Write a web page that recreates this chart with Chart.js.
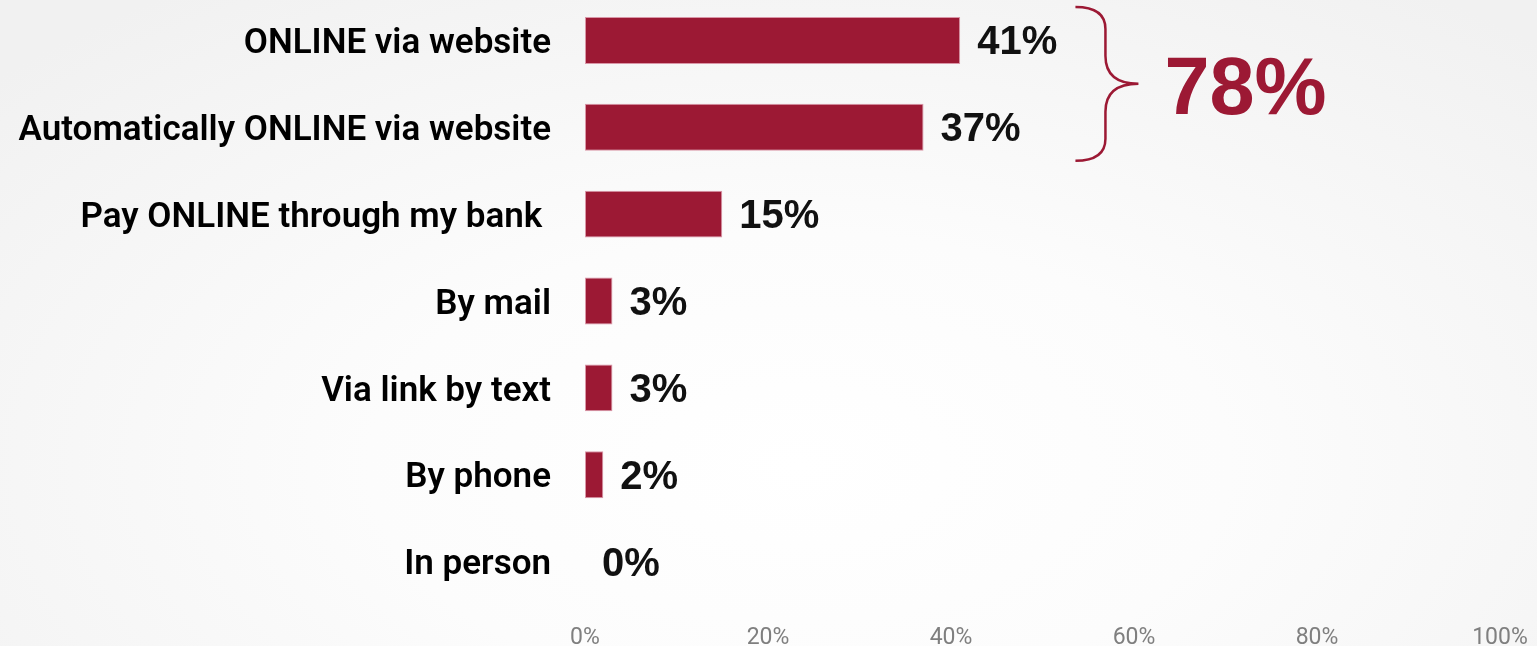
<!DOCTYPE html>
<html>
<head>
<meta charset="utf-8">
<script src="https://cdn.jsdelivr.net/npm/chart.js@4"></script>
<style>
  html, body {
    margin: 0;
    padding: 0;
    width: 1537px;
    height: 646px;
    overflow: hidden;
    background: radial-gradient(ellipse 70% 90% at 52% 72%, #ffffff 0%, #fcfcfc 40%, #f1f1f1 100%);
  }
  #wrap {
    position: absolute;
    left: 0;
    top: -3px;
    width: 1537px;
    height: 649px;
  }
</style>
</head>
<body>
<div id="wrap"><canvas id="payChart"></canvas></div>
<script>
// How people pay their bill
const categories = [
  "ONLINE via website",
  "Automatically ONLINE via website",
  "Pay ONLINE through my bank ",
  "By mail",
  "Via link by text",
  "By phone",
  "In person"
];
const shares = [41, 37, 15, 3, 3, 2, 0];
const xTicks = [0, 20, 40, 60, 80, 100];
const onlineGroup = [0, 1]; // rows bracketed together

const barColor = "#9c1934";

// value text just past each bar end
const valueLabels = {
  id: "valueLabels",
  afterDatasetsDraw(chart) {
    const ctx = chart.ctx;
    const meta = chart.getDatasetMeta(0);
    ctx.save();
    ctx.font = "bold 40px 'Liberation Sans', Arial, sans-serif";
    ctx.fillStyle = "#111";
    ctx.textAlign = "left";
    ctx.textBaseline = "middle";
    meta.data.forEach((bar, i) => {
      ctx.fillText(shares[i] + "%", bar.x + 17, bar.y + 3);
    });
    ctx.restore();
  }
};

// curly brace + total for the online rows
const onlineBrace = {
  id: "onlineBrace",
  afterDatasetsDraw(chart) {
    const ctx = chart.ctx;
    const meta = chart.getDatasetMeta(0);
    const x = chart.scales.x;
    const first = meta.data[onlineGroup[0]];
    const last = meta.data[onlineGroup[onlineGroup.length - 1]];
    const top = first.y - first.height / 2 - 10;
    const bot = last.y + last.height / 2 + 10;
    const mid = (top + bot) / 2;
    const x0 = x.getPixelForValue(53.6);
    const xm = x0 + 30;
    const tip = x0 + 63;

    ctx.save();
    ctx.strokeStyle = barColor;
    ctx.lineWidth = 2.5;
    ctx.beginPath();
    ctx.moveTo(x0, top);
    ctx.quadraticCurveTo(xm, top, xm, top + 22);
    ctx.lineTo(xm, mid - 28);
    ctx.quadraticCurveTo(xm, mid, tip, mid);
    ctx.quadraticCurveTo(xm, mid, xm, mid + 28);
    ctx.lineTo(xm, bot - 22);
    ctx.quadraticCurveTo(xm, bot, x0, bot);
    ctx.stroke();

    const total = onlineGroup.reduce((s, i) => s + shares[i], 0);
    ctx.font = "bold 81px 'Liberation Sans', Arial, sans-serif";
    ctx.fillStyle = barColor;
    ctx.textAlign = "left";
    ctx.textBaseline = "middle";
    ctx.fillText(total + "%", tip + 26, mid + 8);
    ctx.restore();
  }
};

new Chart(document.getElementById("payChart"), {
  type: "bar",
  data: {
    labels: categories,
    datasets: [{
      data: shares,
      backgroundColor: barColor,
      borderColor: "rgba(214, 140, 158, 0.9)",
      borderWidth: 1,
      borderSkipped: false,
      categoryPercentage: 1,
      barPercentage: 0.54
    }]
  },
  options: {
    indexAxis: "y",
    responsive: true,
    maintainAspectRatio: false,
    animation: false,
    layout: { padding: { left: 0, right: 37, top: 0, bottom: 0 } },
    scales: {
      x: {
        min: 0,
        max: 100,
        afterBuildTicks(axis) {
          axis.ticks = xTicks.map(v => ({ value: v }));
        },
        afterFit(axis) {
          axis.height = 41;
          axis.paddingLeft = 0;
          axis.paddingRight = 0;
        },
        grid: { display: false, drawTicks: false },
        border: { display: false },
        ticks: {
          padding: 19,
          color: "#7f7f7f",
          font: { family: "Roboto, sans-serif", size: 23 },
          callback: v => v + "%"
        }
      },
      y: {
        afterFit(axis) {
          axis.width = 585;
          axis.paddingTop = 0;
          axis.paddingBottom = 0;
        },
        grid: { display: false, drawTicks: false },
        border: { display: false },
        ticks: {
          padding: 34,
          labelOffset: 4,
          color: "#000",
          font: { family: "Roboto, sans-serif", size: 35, weight: "600" }
        }
      }
    },
    plugins: {
      legend: { display: false },
      tooltip: { enabled: false }
    }
  },
  plugins: [valueLabels, onlineBrace]
});
</script>
</body>
</html>
